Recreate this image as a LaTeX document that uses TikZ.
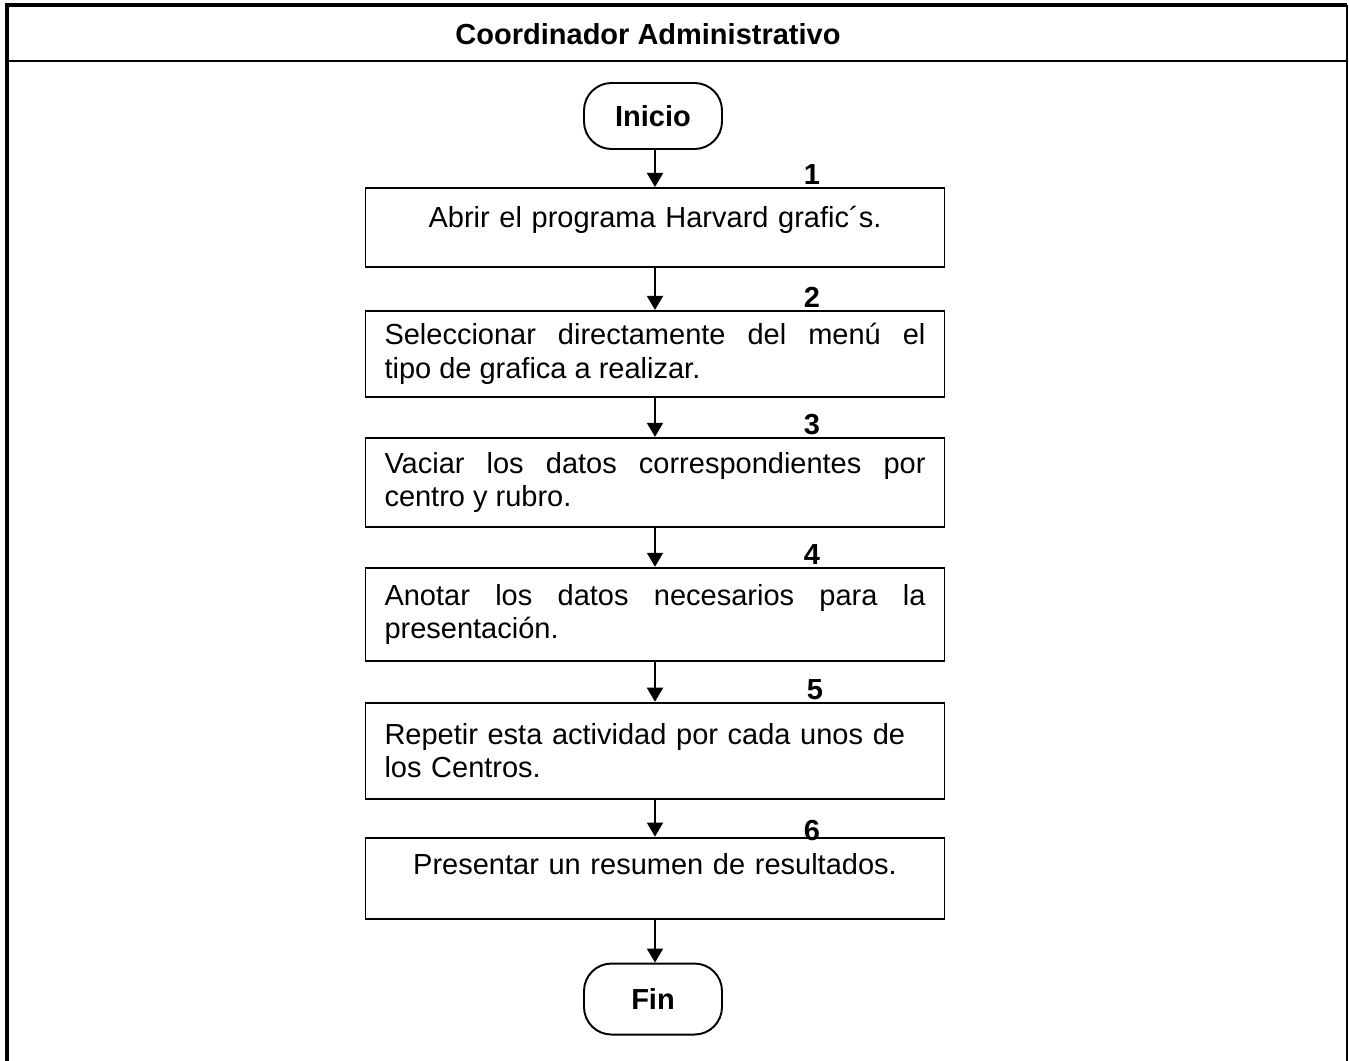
\documentclass[tikz,border=0pt]{standalone}
\usepackage{fontspec}
\setmainfont{Liberation Sans}
\usetikzlibrary{positioning,arrows.meta}
\hyphenpenalty=10000

\tikzset{
  paso/.style={draw, line width=1.1pt, minimum width=11.58cm, text width=10.82cm,
    inner xsep=0.38cm, font=\fontsize{16.5}{19}\selectfont},
  terminal/.style={draw, line width=1.1pt, rounded corners=0.55cm, minimum width=2.76cm,
    font=\fontsize{16.5}{19}\selectfont\bfseries},
  num/.style={anchor=south, inner sep=1pt, font=\fontsize{16.5}{19}\selectfont\bfseries},
  flecha/.style={line width=1.1pt, -{Triangle[length=0.28cm,width=0.32cm]}},
}

\begin{document}
\begin{tikzpicture}[node distance=0.78cm]
    \useasboundingbox (0,0) rectangle (26.98,-21.22) ;
    % marco
    \draw [line width=2.4pt] (0.14,-21.22) -- (0.14,-0.1) -- (26.94,-0.1) ;
    \draw [line width=0.9pt] (26.94,-0.1) -- (26.94,-21.22) ;
    \draw [line width=1.6pt] (0.14,-1.22) -- (26.94,-1.22) ;
    \node (titulo) at (12.96,-0.68) {\fontsize{16.5}{19}\selectfont\bfseries Coordinador Administrativo} ;

    % diagrama
    \node [terminal, minimum height=1.32cm] (inicio) at (13.06,-2.32) {Inicio} ;
    \node [paso, minimum height=1.58cm, below=0.74cm of inicio, align=center, xshift=0.04cm] (p1)
        {Abrir el programa Harvard grafic´s.\\[-6.7pt]\mbox{}} ;
    \node [paso, minimum height=1.72cm, below=0.84cm of p1, align=justify] (p2)
        {Seleccionar directamente del menú el\linebreak tipo de grafica a realizar.} ;
    \node [paso, minimum height=1.78cm, below=0.78cm of p2, align=justify] (p3)
        {Vaciar los datos correspondientes por\linebreak centro y rubro.} ;
    \node [paso, minimum height=1.86cm, below=0.78cm of p3, align=justify] (p4)
        {Anotar los datos necesarios para la\linebreak presentación.} ;
    \node [paso, minimum height=1.92cm, below=0.8cm of p4, align=left] (p5)
        {Repetir esta actividad por cada unos de\\los Centros.} ;
    \node [paso, minimum height=1.62cm, below=0.74cm of p5, align=center] (p6)
        {Presentar un resumen de resultados.\\[-3.2pt]\mbox{}} ;
    \node [terminal, minimum height=1.42cm, below=0.86cm of p6, xshift=-0.04cm] (fin) {Fin} ;

    % numeros
    \node [num] (n1) at ([xshift=3.14cm]p1.north) {1} ;
    \node [num] (n2) at ([xshift=3.14cm]p2.north) {2} ;
    \node [num] (n3) at ([xshift=3.14cm]p3.north) {3} ;
    \node [num] (n4) at ([xshift=3.14cm]p4.north) {4} ;
    \node [num] (n5) at ([xshift=3.2cm]p5.north) {5} ;
    \node [num, yshift=-0.12cm] (n6) at ([xshift=3.14cm]p6.north) {6} ;

    % flechas
    \draw [flecha] (inicio.south -| p1.north) -- (p1.north) ;
    \draw [flecha] (p1) -- (p2) ;
    \draw [flecha] (p2) -- (p3) ;
    \draw [flecha] (p3) -- (p4) ;
    \draw [flecha] (p4) -- (p5) ;
    \draw [flecha] (p5) -- (p6) ;
    \draw [flecha] (p6.south) -- (p6.south |- fin.north) ;
\end{tikzpicture}
\end{document}
